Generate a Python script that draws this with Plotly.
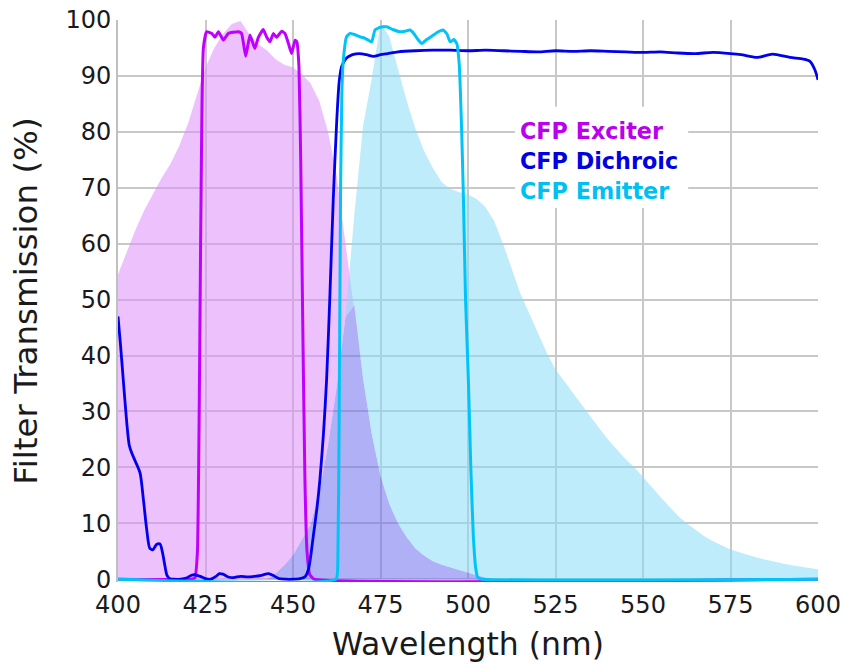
import numpy as np
import plotly.graph_objects as go

# Fluorescent protein spectra (CFP) sampled on a common wavelength grid
spec_wl = np.arange(400, 600.01, 2.5)
cfp_excitation = [
    54.5, 58.5, 62.5, 66, 69, 71.8, 74.3, 77.5, 81.5, 86.5,
    91.5, 95, 97.5, 99.3, 99.8, 97.5, 95.7, 94.6, 93, 92,
    91.5, 90.3, 88.7, 85.5, 80, 72, 60, 49, 36, 26,
    18.5, 13.5, 10, 7.5, 5.5, 4.2, 3.2, 2.6, 2.1, 1.6,
    1.2, 0.7, 0.3, 0,
] + [0] * 37
cfp_emission = [0] * 18 + [
    1, 2.5, 4.3, 7, 9.8, 15.5, 24, 34.5, 47, 65,
    81, 89.5, 99.5, 97, 91, 85.5, 80.5, 76.5, 73.5, 71,
    69.8, 69.2, 68.8, 68, 66.5, 64, 60, 55.5, 51, 47.5,
    44, 40.5, 37.5, 35.3, 33.3, 31.2, 29, 27, 25, 23.2,
    21.5, 20, 18.3, 16.5, 14.7, 13, 11.3, 10, 8.8, 7.7,
    6.8, 6, 5.3, 4.8, 4.3, 3.9, 3.5, 3.1, 2.8, 2.5,
    2.2, 2.0, 1.8,
]
assert len(cfp_excitation) == len(spec_wl) == len(cfp_emission)

# Filter transmission curves
exciter_wl = [400, 421, 422, 422.7, 423.2, 423.6, 424.0, 424.4, 425.3, 426.8,
              427.7, 428.7, 430.1, 431.5, 432.9, 434.4, 435.3, 436.5, 437.7, 439.1,
              440.1, 441.5, 442.5, 443.4, 444.4, 445.3, 446.8, 447.7, 448.7, 449.6,
              450.6, 451.1, 451.7, 452.2, 452.8, 453.4, 454.0, 454.8, 456, 600]
exciter_t = [0, 0, 0.3, 5, 30, 60, 85, 95, 97.9, 97.6,
             96.9, 97.9, 96.4, 97.6, 97.8, 97.9, 97.6, 93.5, 97.3, 94.9,
             96.9, 98.3, 96.9, 96.1, 97.6, 96.9, 98.0, 97.6, 95.8, 94.0,
             96.4, 96.1, 91.7, 75, 45, 18, 5, 0.8, 0, 0]

dichroic_wl = [400, 400.7, 401.5, 402.5, 403.2, 403.9, 405, 406.3, 407.3, 408.2,
               409.1, 410, 411, 412, 412.8, 413.4, 414, 414.8, 416, 418,
               419.5, 421, 422, 423.5, 425, 426.5, 428, 429, 430, 431.5,
               433, 435, 437, 439, 441, 443, 444.5, 446, 448, 450,
               452, 453.5, 454.5, 455.8, 456.8, 457.7, 458.7, 459.6, 460.5, 461.5,
               462.5, 463.2, 463.9, 465.3, 467, 469, 471, 473, 475, 477,
               480, 485, 490, 495, 500, 505, 510, 515, 520, 525,
               530, 535, 540, 545, 550, 555, 560, 565, 570, 575,
               578, 582.5, 587, 592, 595.8, 597.7, 599.1, 600]
dichroic_t = [47, 42, 35.7, 28, 24, 22.6, 21, 19, 14, 8.9,
              5.5, 5.3, 6.2, 6.3, 4.5, 2.4, 0.7, 0.1, 0, 0,
              0.2, 0.7, 0.8, 0.5, 0.1, 0, 0.5, 1.0, 0.9, 0.4,
              0.3, 0.5, 0.4, 0.5, 0.7, 1.0, 0.6, 0.1, 0, 0,
              0.1, 0.5, 2, 7.7, 12.5, 17.9, 26, 35.7, 50, 67.9,
              82, 89, 91.7, 93.2, 93.8, 94.0, 93.8, 93.5, 93.8, 94.0,
              94.3, 94.5, 94.6, 94.6, 94.5, 94.6, 94.5, 94.4, 94.3, 94.5,
              94.4, 94.5, 94.4, 94.3, 94.2, 94.3, 94.1, 94.0, 94.2, 94.0,
              93.8, 93.3, 93.9, 93.3, 93.0, 92.6, 91.1, 89.3]

emitter_wl = [400, 462.3, 462.8, 463.2, 463.6, 464.0, 464.4, 465.3, 466.3, 467.5,
              469.1, 470.3, 471.5, 472.5, 473.4, 474.9, 476.8, 478.5, 480.6, 482,
              483.4, 484.5, 485.7, 486.8, 488.2, 490.1, 491.5, 492.9, 494, 494.9,
              496, 496.8, 497.5, 498.2, 498.7, 499.3, 500.1, 500.8, 501.5, 502.2,
              502.8, 504, 600]
emitter_t = [0, 0, 3, 30, 70, 88, 93, 97, 97.6, 97.4,
             97, 96.8, 96.4, 96.1, 98.2, 98.7, 98.8, 98.3, 97.9, 98.0,
             98.2, 97.6, 96.5, 95.8, 96.5, 97.3, 97.9, 98.2, 97.5, 96.1,
             96.5, 95.8, 92, 80, 67.9, 50, 35.7, 20, 8, 2,
             0.3, 0, 0]

x_ticks = [400, 425, 450, 475, 500, 525, 550, 575, 600]
y_ticks = [0, 10, 20, 30, 40, 50, 60, 70, 80, 90, 100]

legend_items = [("CFP Exciter", "#bb00f0"),
                ("CFP Dichroic", "#0000e0"),
                ("CFP Emitter", "#00c0f2")]

FONT = "DejaVu Sans, Verdana, sans-serif"

exc = np.array(cfp_excitation, dtype=float)
emi = np.array(cfp_emission, dtype=float)
overlap = np.minimum(exc, emi)

fig = go.Figure()

# Spectral fills: overlap region, excitation-only and emission-only bands
fig.add_trace(go.Scatter(x=spec_wl, y=overlap, mode="lines", line=dict(width=0),
                         fill="tozeroy", fillcolor="rgba(112,112,240,0.55)",
                         hoverinfo="skip", showlegend=False))
fig.add_trace(go.Scatter(x=spec_wl, y=exc, mode="lines", line=dict(width=0),
                         fill="tonexty", fillcolor="rgba(222,142,250,0.55)",
                         hoverinfo="skip", showlegend=False))
fig.add_trace(go.Scatter(x=spec_wl, y=overlap, mode="lines", line=dict(width=0),
                         hoverinfo="skip", showlegend=False))
fig.add_trace(go.Scatter(x=spec_wl, y=emi, mode="lines", line=dict(width=0),
                         fill="tonexty", fillcolor="rgba(137,220,246,0.55)",
                         hoverinfo="skip", showlegend=False))

# Filter curves
fig.add_trace(go.Scatter(x=exciter_wl, y=exciter_t, mode="lines",
                         line=dict(color="#c000ff", width=3, shape="spline", smoothing=0.4),
                         name="CFP Exciter", showlegend=False))
fig.add_trace(go.Scatter(x=dichroic_wl, y=dichroic_t, mode="lines",
                         line=dict(color="#0000ee", width=2.8, shape="spline", smoothing=0.7),
                         name="CFP Dichroic", showlegend=False))
fig.add_trace(go.Scatter(x=emitter_wl, y=emitter_t, mode="lines",
                         line=dict(color="#00c4f8", width=3, shape="spline", smoothing=0.4),
                         name="CFP Emitter", showlegend=False))

# Legend block: white panel with coloured labels
fig.add_shape(type="rect", xref="x", yref="y", x0=513.4, x1=562.9, y0=66.4, y1=84.5,
              fillcolor="white", line=dict(width=0), layer="between")
for i, (label, color) in enumerate(legend_items):
    fig.add_annotation(x=514.3, y=80.2 - i * 5.36, xref="x", yref="y",
                       text="<b>" + label + "</b>", showarrow=False,
                       xanchor="left", yanchor="middle",
                       font=dict(family=FONT, size=22.3, color=color))

grid = "#c8c8c8"
fig.update_layout(
    width=844, height=667,
    margin=dict(l=118, r=26, t=20, b=84.5),
    paper_bgcolor="white", plot_bgcolor="white",
    font=dict(family=FONT, size=24, color="#1a1a1a"),
    xaxis=dict(range=[400, 600], tickvals=x_ticks, showgrid=True, gridcolor=grid,
               gridwidth=2, zeroline=False, showline=False, ticks="",
               automargin=False, ticklabelstandoff=6,
               title=dict(text="Wavelength (nm)", font=dict(size=31.5), standoff=14),
               tickfont=dict(size=24)),
    yaxis=dict(range=[-0.5, 100], tickvals=y_ticks, showgrid=True, gridcolor=grid,
               gridwidth=2, zeroline=False, showline=True, linecolor="#c0c0c0",
               linewidth=2, ticks="", automargin=False, ticklabelstandoff=0,
               title=dict(text="Filter Transmission (%)", font=dict(size=32.5), standoff=18),
               tickfont=dict(size=24)),
)

fig.write_html("out.html")
